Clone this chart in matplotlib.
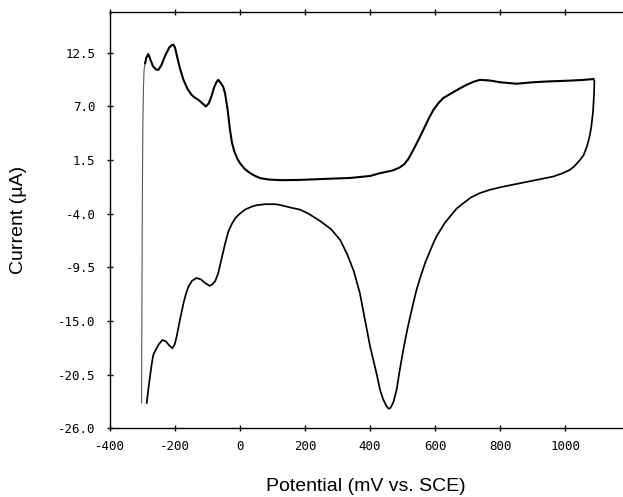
import matplotlib
matplotlib.use("Agg")
import matplotlib.pyplot as plt
from matplotlib.ticker import FixedLocator, FuncFormatter

# Cyclic voltammogram trace (mV vs. SCE, µA)
potential_start = [-303, -302, -301, -300, -299, -297, -295, -292]
current_start = [-23.4, -15.0, -6.0, 0.0, 5.0, 9.0, 10.8, 11.4]

potential_anodic = [-292, -288, -282, -276, -268, -258, -251, -242, -230, -218, -210, -205, -200,
                    -193, -185, -174, -162, -149, -138, -128, -116, -105, -96, -88, -80,
                    -72, -67, -60, -52, -46, -38, -31, -25, -18, -8, 0, 15, 31, 45, 62,
                    90, 130, 185, 260, 340, 400, 431, 470, 490, 505, 518, 533, 548, 564, 580,
                    595, 610, 625, 651, 675, 697, 718, 738, 769, 800, 851, 900, 943, 1000,
                    1050, 1087]
current_anodic = [11.4, 12.0, 12.33, 11.8, 11.1, 10.75, 10.73, 11.2, 12.2, 13.0, 13.25, 13.3, 13.0,
                  12.0, 10.9, 9.7, 8.8, 8.16, 7.85, 7.65, 7.3, 6.97, 7.3, 8.0, 8.9,
                  9.5, 9.7, 9.4, 9.0, 8.3, 6.6, 4.6, 3.3, 2.4, 1.6, 1.15, 0.55, 0.14, -0.12, -0.37,
                  -0.52, -0.58, -0.55, -0.45, -0.35, -0.15, 0.14, 0.42, 0.7, 1.05, 1.6, 2.53, 3.5, 4.58, 5.7,
                  6.63, 7.3, 7.83, 8.34, 8.8, 9.19, 9.5, 9.7, 9.63, 9.45, 9.3, 9.45, 9.53, 9.6,
                  9.68, 9.78]

potential_cathodic = [1087, 1090, 1089, 1086, 1081, 1076, 1067, 1057, 1046, 1030, 1015, 990, 964,
                      920, 862, 810, 770, 738, 710, 687, 666, 646, 630, 620, 605, 595, 585, 570,
                      555, 543, 530, 515, 502, 490, 482, 472, 463, 457, 450, 440, 431,
                      420, 410, 400, 385, 369, 350, 330, 308, 280, 246, 210, 185, 164,
                      120, 108, 77, 50, 36, 15, 0, -5, -15, -25, -36, -46, -56, -67, -76, -85, -94,
                      -108, -120, -134, -148, -159, -167, -174, -185, -195, -201, -208,
                      -218, -228, -239, -250, -260, -267, -272, -277, -282, -287]
current_cathodic = [9.78, 9.6, 8.3, 6.5, 5.0, 4.0, 2.86, 2.0, 1.5, 0.9, 0.48, 0.1, -0.2,
                    -0.5, -0.89, -1.24, -1.55, -1.9, -2.35, -2.94, -3.5, -4.3, -4.95, -5.5, -6.3, -7.0, -7.8, -9.0,
                    -10.5, -11.8, -13.6, -15.8, -18.0, -20.3, -22.0, -23.3, -23.9, -24.0, -23.7, -23.0, -22.1,
                    -20.4, -19.0, -17.6, -15.0, -12.2, -9.9, -8.2, -6.7, -5.6, -4.75, -4.0, -3.6, -3.45,
                    -3.1, -3.04, -3.04, -3.15, -3.29, -3.6, -4.0, -4.14, -4.5, -5.05, -5.85, -7.1, -8.5, -10.1, -10.9, -11.25, -11.4,
                    -11.1, -10.75, -10.6, -10.9, -11.5, -12.3, -13.2, -14.9, -16.6, -17.4, -17.8,
                    -17.5, -17.1, -16.95, -17.4, -18.0, -18.5, -19.5, -20.7, -22.0, -23.4]

x_ticks = [-400, -200, 0, 200, 400, 600, 800, 1000]
y_ticks = [12.5, 7.0, 1.5, -4.0, -9.5, -15.0, -20.5, -26.0]

fig = plt.figure(figsize=(6.23, 4.97), dpi=100)
ax = fig.add_axes([110/623, 1 - 428.3/497, 512/623, (428.3 - 12)/497])

ax.plot(potential_start, current_start, color="#555555", lw=0.8)
ax.plot(potential_anodic, current_anodic, color="black", lw=1.5, solid_joinstyle="round")
ax.plot(potential_cathodic, current_cathodic, color="black", lw=1.25, solid_joinstyle="round")

ax.set_xlim(-400, 1175)
ax.set_ylim(-26, 16.65)
ax.spines["right"].set_visible(False)
for s in ["left", "bottom", "top"]:
    ax.spines[s].set_linewidth(1.0)

ax.xaxis.set_major_locator(FixedLocator(x_ticks))
ax.yaxis.set_major_locator(FixedLocator(y_ticks))
ax.xaxis.set_major_formatter(FuncFormatter(lambda v, p: "%d" % v))
ax.yaxis.set_major_formatter(FuncFormatter(lambda v, p: "%.1f" % v))
mono = "DejaVu Sans Mono"
ax.tick_params(axis="x", direction="inout", length=5, width=1, top=True, pad=6, labelsize=9)
ax.tick_params(axis="y", direction="inout", length=5, width=1, right=False, pad=8, labelsize=9)
for lab in ax.get_xticklabels() + ax.get_yticklabels():
    lab.set_fontfamily(mono)

ax.set_xlabel("Potential (mV vs. SCE)", fontsize=14, family="Liberation Sans", labelpad=18)
ax.set_ylabel("Current (\u00b5A)", fontsize=14, family="Liberation Sans", labelpad=22)

fig.savefig("out.png", dpi=100)
